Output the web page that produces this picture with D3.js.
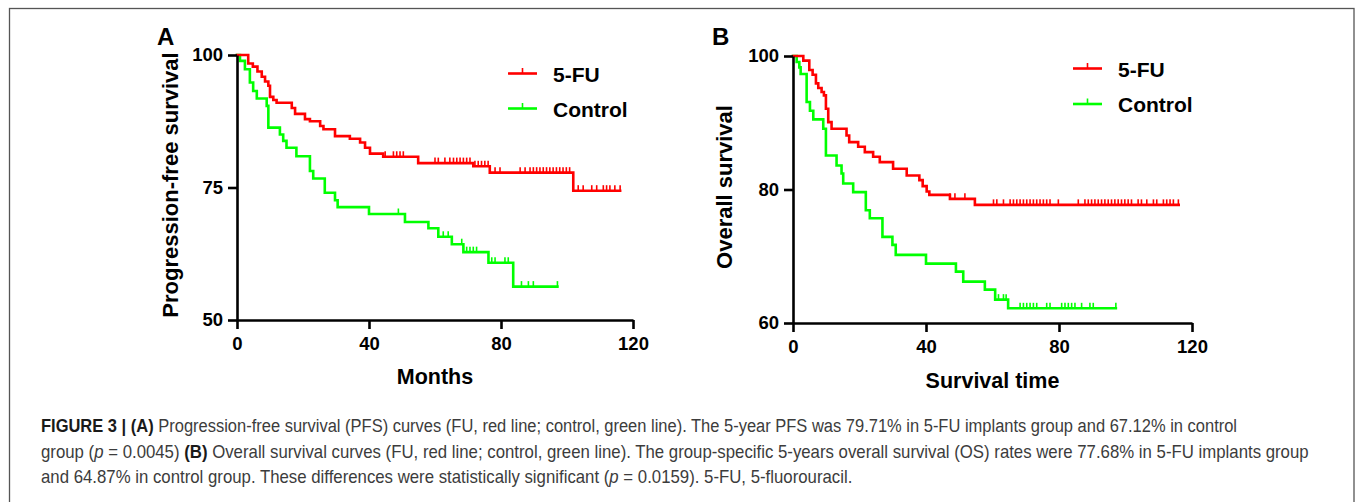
<!DOCTYPE html>
<html>
<head>
<meta charset="utf-8">
<script src="https://cdn.jsdelivr.net/npm/d3@7"></script>
<style>
  html, body { margin: 0; padding: 0; background: #fff; }
  svg { display: block; }
</style>
</head>
<body>
<svg id="chart" width="1357" height="502"></svg>
<script>
// ---------------- DATA ----------------
const xTicks = [0, 40, 80, 120];
const yTicksA = [50, 75, 100];
const yTicksB = [60, 80, 100];
const legendLabels = ["5-FU", "Control"];

// Panel A: progression-free survival (months, % survival after each event)
const pfsFuTimes = [0, 3.4, 4.8, 6.2, 7.5, 8.5, 9.5, 10.0, 11.0, 12.0, 16.6, 17.6, 20.6, 22.1, 25.2, 26.2, 29.7, 34.2, 37.3, 38.8, 40.3, 44.3, 54.9, 71.6, 76.6, 101.9];
const pfsFuSurv  = [100, 98.4, 97.8, 96.9, 95.9, 95.0, 94.2, 92.1, 91.5, 91.0, 90.0, 88.9, 87.9, 87.5, 86.6, 86.0, 84.7, 84.2, 83.5, 82.5, 81.4, 80.8, 79.6, 79.0, 77.8, 74.4];
const pfsFuEnd = 116.1;
const pfsFuCensor = [44.9, 47.4, 48.4, 49.4, 50.4, 60, 61, 63, 64.5, 65.6, 66.6, 67.6, 68.6, 69.6, 70.6, 72.1, 73.1, 74.1, 75.1, 76.1, 78.2, 79.7, 85.8, 87.3, 88.8, 89.8, 90.8, 91.8, 92.8, 93.8, 94.8, 95.8, 96.8, 97.8, 98.8, 99.8, 100.8, 103.4, 104.9, 107.5, 109, 111, 112, 113, 114.5, 116.1];

const pfsCtTimes = [0, 0.9, 2.4, 3.9, 4.9, 6.0, 9.0, 9.5, 13.0, 14.0, 15.0, 18.0, 22.1, 23.1, 26.6, 29.7, 30.5, 40.0, 50.9, 58.0, 61.0, 65.1, 68.6, 76.2, 83.7];
const pfsCtSurv  = [100, 98.9, 97.3, 94.8, 93.2, 91.8, 90.4, 86.3, 85.0, 83.8, 82.5, 80.9, 78.1, 76.7, 74.0, 72.6, 71.3, 70.0, 68.5, 67.3, 65.7, 64.3, 62.8, 60.8, 56.3];
const pfsCtEnd = 97.1;
const pfsCtCensor = [48.9, 62.5, 64.0, 68.1, 69.6, 70.6, 71.6, 72.6, 77.2, 78.2, 81.2, 82.2, 86.2, 88.3, 89.8, 97.1];

// Panel B: overall survival
const osFuTimes = [0, 3.1, 4.9, 5.9, 6.9, 7.6, 8.6, 9.3, 9.9, 10.6, 11.6, 16.1, 16.9, 19.6, 21.6, 24.1, 26.1, 30.1, 34.2, 38.0, 39.0, 40.2, 41.0, 47.2, 54.7];
const osFuSurv  = [100, 99.3, 97.9, 97.2, 95.9, 95.2, 94.6, 94.1, 92.1, 90.1, 89.1, 88.1, 87.1, 86.4, 85.6, 84.9, 84.1, 83.1, 82.1, 81.4, 80.5, 79.7, 79.2, 78.6, 77.7];
const osFuEnd = 116.0;
const osFuCensor = [47.2, 48.7, 51.7, 60.3, 61.3, 63.3, 65.3, 66.3, 67.3, 68.3, 69.3, 70.3, 71.3, 72.3, 73.3, 74.3, 75.3, 76.3, 77.3, 79.8, 85.8, 87.8, 88.8, 89.8, 90.8, 91.8, 92.8, 93.8, 94.8, 95.8, 96.8, 97.8, 98.8, 99.8, 100.8, 101.8, 103.8, 104.8, 106.4, 108.4, 109.4, 111.4, 112.4, 113.4, 114.4, 115.9];

const osCtTimes = [0, 1.1, 1.9, 2.3, 4.1, 5.1, 6.1, 9.1, 9.9, 13.1, 14.6, 15.1, 18.1, 21.9, 23.1, 26.9, 29.9, 30.9, 40.0, 49.0, 51.2, 57.7, 60.8, 64.7];
const osCtSurv  = [100, 99.1, 98.3, 97.3, 93.1, 91.8, 90.5, 89.1, 85.1, 83.6, 82.4, 80.9, 79.6, 76.9, 75.7, 72.9, 71.7, 70.2, 68.9, 67.7, 66.2, 65.0, 63.5, 62.2];
const osCtEnd = 97.1;
const osCtCensor = [61.8, 63.3, 64.1, 68.3, 69.3, 70.3, 71.3, 72.3, 73.3, 76.3, 77.3, 80.8, 81.8, 82.8, 83.8, 84.8, 86.8, 89.3, 90.3, 97.1];

// ---------------- DRAW ----------------
const RED = "#ff0000", GREEN = "#00ff00";
const FONT = "'Liberation Sans', Arial, Helvetica, sans-serif";
const svg = d3.select("#chart");

// frame
svg.append("rect").attr("x", 9.5).attr("y", 8.5).attr("width", 1344.5).attr("height", 600)
  .attr("fill", "none").attr("stroke", "#555").attr("stroke-width", 1.3);

function panel(cfg) {
  const g = svg.append("g");
  const x = d3.scaleLinear().domain([0, 120]).range(cfg.xRange);
  const y = d3.scaleLinear().domain(cfg.yDomain).range(cfg.yRange);

  const series = [
    {times: cfg.fu[0], surv: cfg.fu[1], end: cfg.fu[2], censor: cfg.fu[3], color: RED},
    {times: cfg.ct[0], surv: cfg.ct[1], end: cfg.ct[2], censor: cfg.ct[3], color: GREEN}
  ];
  const line = d3.line().x(d => x(d[0])).y(d => y(d[1])).curve(d3.curveStepAfter);

  [series[1], series[0]].forEach(s => {
    const pts = s.times.map((t, i) => [t, s.surv[i]]);
    pts.push([s.end, s.surv[s.surv.length - 1]]);
    g.append("path").attr("d", line(pts)).attr("fill", "none")
      .attr("stroke", s.color).attr("stroke-width", 2.6).attr("stroke-linejoin", "miter").attr("stroke-linecap", "square");
    const survAt = t => { let v = s.surv[0]; s.times.forEach((tt, i) => { if (tt <= t) v = s.surv[i]; }); return v; };
    g.selectAll(null).data(s.censor).enter().append("line")
      .attr("x1", d => x(d)).attr("x2", d => x(d))
      .attr("y1", d => y(survAt(d))).attr("y2", d => y(survAt(d)) - 5.5)
      .attr("stroke", s.color).attr("stroke-width", 1.6);
  });

  // axes
  const ax = g.append("g").attr("transform", `translate(0,${cfg.yRange[0]})`)
    .call(d3.axisBottom(x).tickValues(xTicks).tickSize(9).tickSizeOuter(0).tickPadding(8));
  const ay = g.append("g").attr("transform", `translate(${cfg.xRange[0]},0)`)
    .call(d3.axisLeft(y).tickValues(cfg.yTicks).tickSize(9).tickSizeOuter(0).tickPadding(5));
  [ax, ay].forEach(a => {
    a.select(".domain").attr("stroke", "#000").attr("stroke-width", 2.6);
    a.selectAll(".tick line").attr("stroke", "#000").attr("stroke-width", 2.6);
    a.selectAll(".tick text").attr("fill", "#000").style("font-family", FONT)
      .style("font-weight", "bold").style("font-size", "18.5px");
  });

  // panel letter
  g.append("text").attr("x", cfg.letterX).attr("y", 45).text(cfg.letter)
    .style("font-family", FONT).style("font-weight", "bold").style("font-size", "24px");

  // axis titles
  g.append("text").attr("x", (cfg.xRange[0] + cfg.xRange[1]) / 2).attr("y", cfg.xTitleY)
    .attr("text-anchor", "middle").text(cfg.xTitle)
    .style("font-family", FONT).style("font-weight", "bold").style("font-size", "21.5px");
  g.append("text").attr("transform", `translate(${cfg.yTitleX},${cfg.yTitleCY}) rotate(-90)`)
    .attr("text-anchor", "middle").text(cfg.yTitle)
    .style("font-family", FONT).style("font-weight", "bold").style("font-size", "22px");

  // legend
  cfg.legend.forEach((L, i) => {
    const col = i === 0 ? RED : GREEN;
    g.append("line").attr("x1", L.x1).attr("x2", L.x1 + 29).attr("y1", L.y).attr("y2", L.y)
      .attr("stroke", col).attr("stroke-width", 2.6);
    g.append("line").attr("x1", L.x1 + 14.5).attr("x2", L.x1 + 14.5).attr("y1", L.y).attr("y2", L.y - 5.5)
      .attr("stroke", col).attr("stroke-width", 1.6);
    g.append("text").attr("x", L.tx).attr("y", L.y + 8).text(legendLabels[i])
      .style("font-family", FONT).style("font-weight", "bold").style("font-size", "21px");
  });
}

panel({
  xRange: [237, 633], yDomain: [50, 100], yRange: [320, 55], yTicks: yTicksA,
  fu: [pfsFuTimes, pfsFuSurv, pfsFuEnd, pfsFuCensor],
  ct: [pfsCtTimes, pfsCtSurv, pfsCtEnd, pfsCtCensor],
  letter: "A", letterX: 157,
  xTitle: "Months", xTitleY: 384,
  yTitle: "Progression-free survival", yTitleX: 178, yTitleCY: 185,
  legend: [{x1: 508, y: 73.5, tx: 553}, {x1: 508, y: 108.5, tx: 553}]
});
panel({
  xRange: [793, 1192], yDomain: [60, 100], yRange: [323, 56], yTicks: yTicksB,
  fu: [osFuTimes, osFuSurv, osFuEnd, osFuCensor],
  ct: [osCtTimes, osCtSurv, osCtEnd, osCtCensor],
  letter: "B", letterX: 712,
  xTitle: "Survival time", xTitleY: 388,
  yTitle: "Overall survival", yTitleX: 732, yTitleCY: 187,
  legend: [{x1: 1073, y: 68.5, tx: 1118}, {x1: 1073, y: 104, tx: 1118}]
});

// ---------------- CAPTION ----------------
const captionLines = [
  [["b", "FIGURE 3 | (A)"], ["n", " Progression-free survival (PFS) curves (FU, red line; control, green line). The 5-year PFS was 79.71% in 5-FU implants group and 67.12% in control"]],
  [["n", "group ("], ["i", "p"], ["n", " = 0.0045) "], ["b", "(B)"], ["n", " Overall survival curves (FU, red line; control, green line). The group-specific 5-years overall survival (OS) rates were 77.68% in 5-FU implants group"]],
  [["n", "and 64.87% in control group. These differences were statistically significant ("], ["i", "p"], ["n", " = 0.0159). 5-FU, 5-fluorouracil."]]
];
const capY = [432, 458, 483];
const capX = 41;
const capEnds = [1238, 1310, null];
const texts = captionLines.map((parts, li) => {
  const g = svg.append("g");
  const t = g.append("text").attr("x", 0).attr("y", 0)
    .style("font-family", FONT).style("font-size", "18px").attr("fill", "#3c3c3c")
    .style("white-space", "pre");
  parts.forEach(p => {
    const ts = t.append("tspan").text(p[1]);
    if (p[0] === "b") ts.style("font-weight", "bold").attr("fill", "#1a1a1a");
    if (p[0] === "i") ts.style("font-style", "italic");
  });
  return {g, t, li};
});
const nat = texts.map(o => o.t.node().getComputedTextLength());
const k2 = (capEnds[1] - capX) / nat[1];
texts.forEach((o, i) => {
  const k = capEnds[i] ? (capEnds[i] - capX) / nat[i] : k2;
  o.g.attr("transform", `translate(${capX},${capY[i]}) scale(${k},1)`);
});
</script>
</body>
</html>
